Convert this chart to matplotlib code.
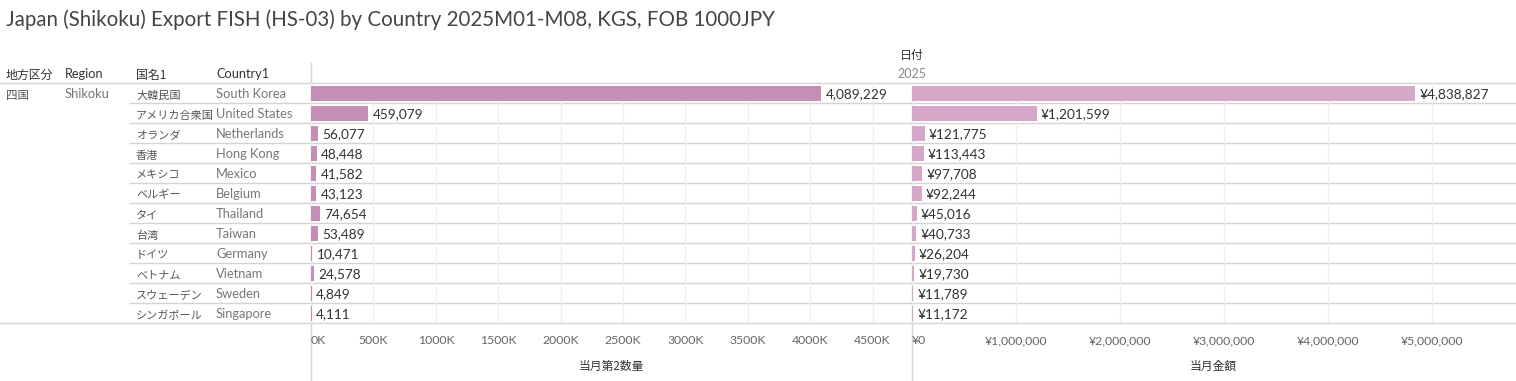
import matplotlib
matplotlib.use("Agg")
import matplotlib.pyplot as plt
from matplotlib.ticker import FuncFormatter

plt.rcParams['font.family'] = ['Lato', 'Noto Sans CJK JP', 'DejaVu Sans']
JP = ['Noto Sans CJK JP', 'DejaVu Sans']

# データ
title = 'Japan (Shikoku) Export FISH (HS-03) by Country 2025M01-M08, KGS, FOB 1000JPY'
region_jp = '四国'
region_en = 'Shikoku'
names_jp = ['大韓民国', 'アメリカ合衆国', 'オランダ', '香港', 'メキシコ', 'ベルギー',
            'タイ', '台湾', 'ドイツ', 'ベトナム', 'スウェーデン', 'シンガポール']
countries = ['South Korea', 'United States', 'Netherlands', 'Hong Kong', 'Mexico', 'Belgium',
             'Thailand', 'Taiwan', 'Germany', 'Vietnam', 'Sweden', 'Singapore']
qty = [4089229, 459079, 56077, 48448, 41582, 43123, 74654, 53489, 10471, 24578, 4849, 4111]
value = [4838827, 1201599, 121775, 113443, 97708, 92244, 45016, 40733, 26204, 19730, 11789, 11172]
qty_ticks = [0, 500000, 1000000, 1500000, 2000000, 2500000, 3000000, 3500000, 4000000, 4500000]
value_ticks = [0, 1000000, 2000000, 3000000, 4000000, 5000000]

W, H = 1516, 381
fig = plt.figure(figsize=(W / 100, H / 100), dpi=100)

# 背景用（ピクセル座標）
bg = fig.add_axes([0, 0, 1, 1], zorder=0)
bg.set_xlim(0, W)
bg.set_ylim(H, 0)
bg.axis('off')

top, row_h = 83, 20
n = len(countries)
bottom = top + n * row_h
line_c = '#d4d4d4'
dy = 1.0   # 欧文の縦位置補正
djp = 2.5  # 和文の縦位置補正

bg.plot([0, W], [top, top], color=line_c, lw=1)
bg.plot([0, W], [bottom, bottom], color=line_c, lw=1)
for i in range(1, n):
    y = top + i * row_h
    bg.plot([130, W], [y, y], color=line_c, lw=1)
bg.plot([311, 311], [63, H], color=line_c, lw=1)
bg.plot([912, 912], [top, H], color=line_c, lw=1)

bg.text(6, 20, title, fontsize=14.8, color='#444444', va='center', ha='left')
hdr_y = 73
bg.text(6, hdr_y + djp, '地方区分', family=JP, fontsize=8.6, color='#333333', va='center', ha='left')
bg.text(65, hdr_y + dy, 'Region', fontsize=9.2, color='#333333', va='center', ha='left')
bg.text(136, hdr_y + djp, '国名1', family=JP, fontsize=8.6, color='#333333', va='center', ha='left')
bg.text(216, hdr_y + dy, 'Country1', fontsize=9.2, color='#333333', va='center', ha='left')
bg.text(912, 53 + djp, '日付', family=JP, fontsize=8.6, color='#333333', va='center', ha='center')
bg.text(912, 73 + dy, '2025', fontsize=9, color='#888888', va='center', ha='center')

bg.text(6, top + row_h / 2 + djp, region_jp, family=JP, fontsize=8.3, color='#555555', va='center')
bg.text(65, top + row_h / 2 + dy, region_en, fontsize=9.3, color='#777777', va='center')
for i in range(n):
    yc = top + i * row_h + row_h / 2
    bg.text(136, yc + djp, names_jp[i], family=JP, fontsize=8, color='#555555', va='center')
    bg.text(216, yc + dy, countries[i], fontsize=9.3, color='#777777', va='center')

bg.text(611, 364 + djp, '当月第2数量', family=JP, fontsize=8.5, color='#333333', va='center', ha='center')
bg.text(1213, 364 + djp, '当月金額', family=JP, fontsize=8.5, color='#333333', va='center', ha='center')


def panel(left, width, vals, xmax, ticks, fmt, lab_fmt, color):
    ax = fig.add_axes([left / W, (H - bottom) / H, width / W, (n * row_h) / H], zorder=1)
    ax.patch.set_alpha(0)
    ypos = list(range(n))
    ax.barh(ypos, vals, height=0.75, color=color, zorder=2)
    ax.set_xlim(0, xmax)
    ax.set_ylim(n - 0.5, -0.5)
    ax.set_yticks([])
    ax.set_xticks(ticks)
    ax.xaxis.set_major_formatter(FuncFormatter(fmt))
    ax.tick_params(axis='x', length=0, pad=9, labelsize=8.8, labelcolor='#666666')
    ax.grid(axis='x', color='#efefef', lw=1, zorder=0)
    for s in ax.spines.values():
        s.set_visible(False)
    for y, v in zip(ypos, vals):
        ax.annotate(lab_fmt(v), (v, y), xytext=(3, -1), textcoords='offset points',
                    va='center', ha='left', fontsize=9.8, color='#333333')
    labs = ax.get_xticklabels()
    labs[0].set_ha('left')
    return ax


panel(311, 601, qty, 601 * 8013, qty_ticks,
      lambda v, p: f'{v / 1000:.0f}K', lambda v: f'{v:,}', '#c48fb5')
panel(912, 604, value, 604 / 104 * 1e6, value_ticks,
      lambda v, p: f'¥{v:,.0f}', lambda v: f'¥{v:,}', '#d5a7c9')

fig.savefig('out.png', dpi=100)
